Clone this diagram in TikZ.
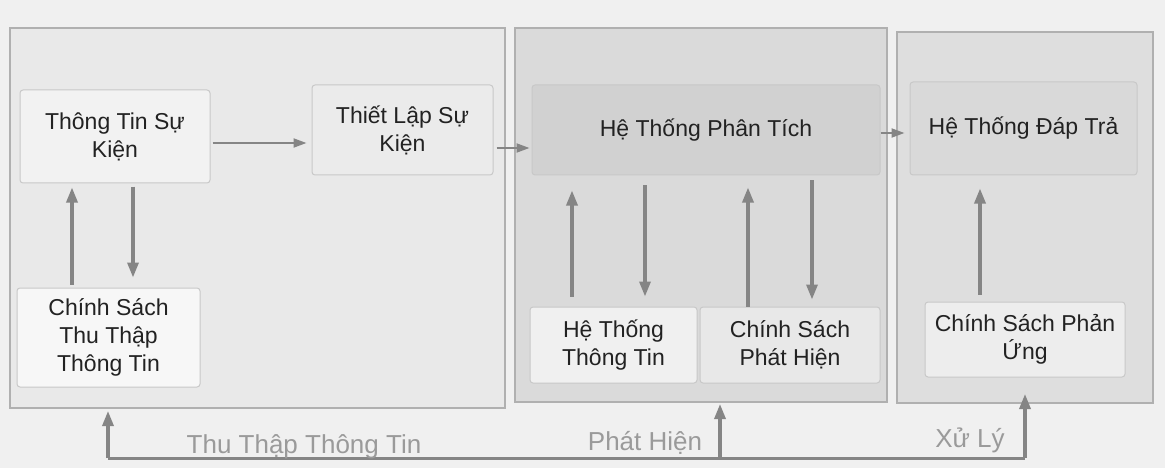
\documentclass[tikz,border=0pt]{standalone}
\usepackage{fontspec}
\setmainfont{Liberation Sans}
\usetikzlibrary{arrows.meta}
\definecolor{pagebg}{HTML}{F0F0F0}
\definecolor{txtc}{HTML}{222222}
\definecolor{lblc}{HTML}{9A9A9A}
\definecolor{arrc}{HTML}{858585}
\definecolor{edgec}{HTML}{B0B0B0}
\definecolor{panelA}{HTML}{E9E9E9}
\definecolor{panelB}{HTML}{DADADA}
\definecolor{panelC}{HTML}{DEDEDE}
\tikzset{
  panelbox/.style={draw=edgec, line width=1.4pt, inner sep=0pt},
  itembox/.style={draw=edgec!70, line width=1pt, rounded corners=3pt, align=center,
     text=txtc, font=\fontsize{23}{28}\selectfont, inner sep=2pt},
  arr/.style={draw=arrc, line width=3.2pt, -{Triangle[length=15pt,width=11pt]}},
  thinarr/.style={draw=arrc, line width=2pt, -{Triangle[length=13pt,width=9pt]}},
  baseln/.style={draw=arrc, line width=3pt},
  lbl/.style={text=lblc, font=\fontsize{26}{30}\selectfont, inner sep=0pt, anchor=base}
}
\begin{document}
\begin{tikzpicture}[x=1pt,y=-1pt]
\useasboundingbox[fill=pagebg] (0,0) rectangle (1165,468);
% panels
\node[panelbox, fill=panelA, minimum width=495pt, minimum height=380pt] (P1) at (257.5,218) {};
\node[panelbox, fill=panelB, minimum width=372pt, minimum height=374pt] (P2) at (701,215) {};
\node[panelbox, fill=panelC, minimum width=256pt, minimum height=371pt] (P3) at (1025,217.5) {};
% boxes
\node[itembox, fill=white!95!black, minimum width=190pt, minimum height=93pt] (A) at (115,136.5) {Thông Tin Sự\\Kiện};
\node[itembox, fill=white!92!black, minimum width=181pt, minimum height=90pt] (B) at (402.5,130) {Thiết Lập Sự\\Kiện};
\node[itembox, fill=white!97!black, minimum width=183pt, minimum height=99pt] (C) at (108.5,337.5) {Chính Sách\\Thu Thập\\Thông Tin};
\node[itembox, fill=white!82!black, minimum width=348pt, minimum height=90pt] (D) at (706,130) {Hệ Thống Phân Tích};
\node[itembox, fill=white!94!black, minimum width=167pt, minimum height=76pt] (E) at (613.5,345) {Hệ Thống\\Thông Tin};
\node[itembox, fill=white!91!black, minimum width=180pt, minimum height=76pt] (F) at (790,345) {Chính Sách\\Phát Hiện};
\node[itembox, fill=white!85!black, minimum width=227pt, minimum height=93pt] (G) at (1023.5,128.5) {Hệ Thống Đáp Trả};
\node[itembox, fill=white!93!black, minimum width=200pt, minimum height=75pt] (H) at (1025,339.5) {Chính Sách Phản\\Ứng};
% x positions for vertical arrows
\coordinate (xa) at (72,0);
\coordinate (xb) at (133,0);
\coordinate (xc) at (572,0);
\coordinate (xd) at (645,0);
\coordinate (xe) at (748,0);
\coordinate (xf) at (812,0);
\coordinate (xg) at (980,0);
% y positions for horizontal arrows
\coordinate (ya) at (0,143);
\coordinate (yb) at (0,148);
\coordinate (yc) at (0,133);
% vertical arrows
\draw[arr, shorten <=3pt, shorten >=4pt] (C.north -| xa) -- (A.south -| xa);
\draw[arr, shorten <=3pt, shorten >=10pt] (A.south -| xb) -- (C.north -| xb);
\draw[arr, shorten <=10pt, shorten >=15pt] (E.north -| xc) -- (D.south -| xc);
\draw[arr, shorten <=10pt, shorten >=10pt] (D.south -| xd) -- (E.north -| xd);
\draw[arr, shorten <=0pt, shorten >=12pt] (F.north -| xe) -- (D.south -| xe);
\draw[arr, shorten <=5pt, shorten >=7pt] (D.south -| xf) -- (F.north -| xf);
\draw[arr, shorten <=7pt, shorten >=13pt] (H.north -| xg) -- (G.south -| xg);
% horizontal arrows
\draw[thinarr, shorten <=2pt, shorten >=5pt] (A.east |- ya) -- (B.west |- ya);
\draw[thinarr, shorten <=3pt, shorten >=2pt] (B.east |- yb) -- (D.west |- yb);
\draw[thinarr, shorten <=0pt, shorten >=5pt] (D.east |- yc) -- (G.west |- yc);
% bottom line and arrows
\coordinate (L1) at (108,458);
\coordinate (L2) at (720,458);
\coordinate (L3) at (1025,458);
\coordinate (T1) at (108,411);
\coordinate (T2) at (720,404);
\coordinate (T3) at (1025,394);
\draw[baseln] (L1) -- (L3);
\draw[arr] (L1) -- (T1);
\draw[arr] (L2) -- (T2);
\draw[arr] (L3) -- (T3);
\node[lbl] (N1) at (304,453) {Thu Thập Thông Tin};
\node[lbl] (N2) at (645,450) {Phát Hiện};
\node[lbl] (N3) at (970,447) {Xử Lý};
\end{tikzpicture}
\end{document}
